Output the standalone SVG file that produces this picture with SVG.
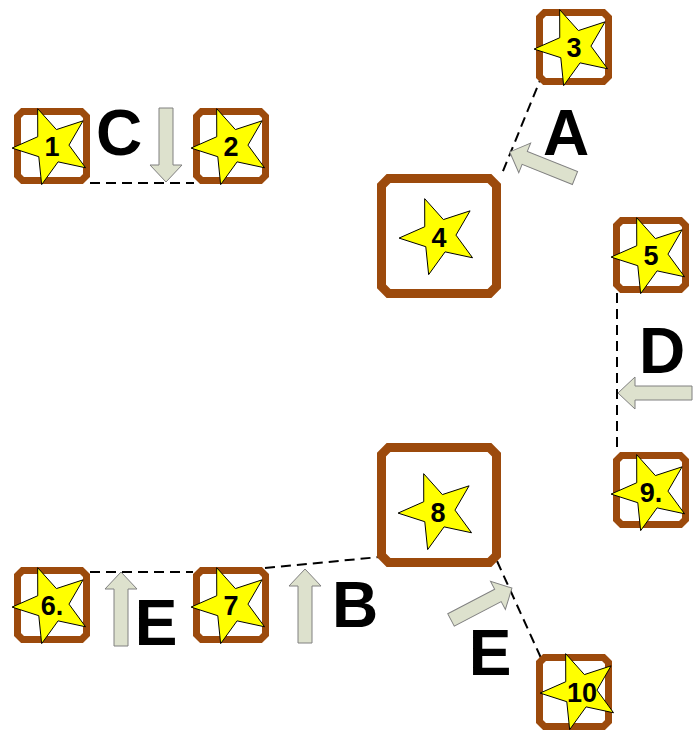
<svg xmlns="http://www.w3.org/2000/svg" xmlns:xlink="http://www.w3.org/1999/xlink" width="699" height="731" viewBox="0 0 699 731">
<style>
.box{fill:#fff;stroke:#9C4A0C;stroke-width:7}
.big{fill:#fff;stroke:#9C4A0C;stroke-width:9}
.star{fill:#FFFF00;stroke:#000;stroke-width:1}
.num{font-family:"Liberation Sans",Arial,sans-serif;font-weight:bold;font-size:27px;text-anchor:middle;fill:#000}
.lbl{font-family:"Liberation Sans",Arial,sans-serif;font-weight:bold;font-size:64px;text-anchor:middle;fill:#000}
.conn{fill:none;stroke:#000;stroke-width:2;stroke-dasharray:10,6}
.arr{fill:#DDE1CD;stroke:#808080;stroke-width:1}
</style>
<defs>
<path id="sbox" d="M-29.5,-34.5 H29.5 L34.5,-29.5 V29.5 L29.5,34.5 H-29.5 L-34.5,29.5 V-29.5 Z"/>
<path id="bbox" d="M-50.5,-57.5 H50.5 L57.5,-50.5 V50.5 L50.5,57.5 H-50.5 L-57.5,50.5 V-50.5 Z"/>
<path id="star" d="M-14.34,-37.34 L4.40,-16.42 L31.08,-25.17 L16.98,-0.89 L33.55,21.78 L6.09,15.87 L-10.35,38.64 L-13.21,10.70 L-39.95,2.09 L-14.26,-9.26 Z"/>
<path id="arrow" d="M0,-7 H57 V-16 L74,0 L57,16 V7 H0 Z"/>
</defs>
<g id="connectors">
<path class="conn" d="M90,183 H194"/>
<path class="conn" d="M543,73 L501,176"/>
<path class="conn" d="M617,293 V449"/>
<path class="conn" d="M90,572 H193"/>
<path class="conn" d="M265,568 L390,556"/>
<path class="conn" d="M497,561 L541,658"/>
</g>
<g id="node1" transform="translate(52,146)"><use href="#sbox" class="box"/><use href="#star" class="star"/><text class="num" y="10">1</text></g>
<g id="node2" transform="translate(231,146)"><use href="#sbox" class="box"/><use href="#star" class="star"/><text class="num" y="10">2</text></g>
<g id="node3" transform="translate(574,47)"><use href="#sbox" class="box"/><use href="#star" class="star"/><text class="num" y="10">3</text></g>
<g id="node4" transform="translate(439,236)"><use href="#bbox" class="big"/><use href="#star" class="star"/><text class="num" y="11">4</text></g>
<g id="node5" transform="translate(651,255)"><use href="#sbox" class="box"/><use href="#star" class="star"/><text class="num" y="10">5</text></g>
<g id="node9" transform="translate(651,490)"><use href="#sbox" class="box"/><use href="#star" transform="translate(0,2)" class="star"/><text class="num" y="12">9.</text></g>
<g id="node6" transform="translate(52,605)"><use href="#sbox" class="box"/><use href="#star" class="star"/><text class="num" y="10">6.</text></g>
<g id="node7" transform="translate(231,605)"><use href="#sbox" class="box"/><use href="#star" class="star"/><text class="num" y="10">7</text></g>
<g id="node8" transform="translate(439,505)"><use href="#bbox" class="big"/><use href="#star" transform="translate(-1,6)" class="star"/><text class="num" x="-1" y="17">8</text></g>
<g id="node10" transform="translate(574,692)"><use href="#sbox" class="box"/><use href="#star" transform="translate(6,-1)" class="star"/><text class="num" x="8" y="10">10</text></g>
<g id="arrows">
<use href="#arrow" class="arr" transform="translate(166,108) rotate(90)"/>
<use href="#arrow" class="arr" transform="translate(575,178) rotate(-158.2) scale(0.95,1)"/>
<use href="#arrow" class="arr" transform="translate(692,393) rotate(180)"/>
<use href="#arrow" class="arr" transform="translate(121,646) rotate(-90)"/>
<use href="#arrow" class="arr" transform="translate(305,643) rotate(-90)"/>
<use href="#arrow" class="arr" transform="translate(451,620) rotate(-27.7) scale(0.93,1)"/>
</g>
<g id="labels">
<text class="lbl" x="119" y="155">C</text>
<text class="lbl" x="566" y="155">A</text>
<text class="lbl" x="662" y="373">D</text>
<text class="lbl" x="156" y="645">E</text>
<text class="lbl" x="355" y="627">B</text>
<text class="lbl" x="490" y="675">E</text>
</g>
</svg>
